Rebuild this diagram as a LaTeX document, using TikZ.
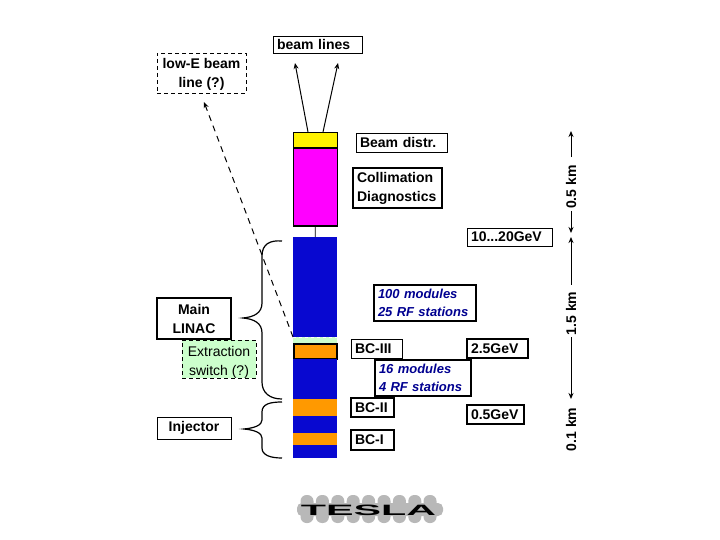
\documentclass[tikz,border=0pt]{standalone}
\usepackage{fontspec}
\setmainfont{Liberation Sans}
\usepackage{xcolor}
\usetikzlibrary{arrows.meta}
\definecolor{barblue}{HTML}{0808D0}
\definecolor{barorange}{HTML}{FF9900}
\definecolor{barpink}{HTML}{FF00FF}
\definecolor{switchgreen}{HTML}{CCFFCC}
\definecolor{notenavy}{HTML}{000090}
\definecolor{logogrey}{HTML}{B8B8B8}

\begin{document}
\begin{tikzpicture}[x=1pt, y=-1pt,
        bar/.style={minimum width=44pt, inner sep=0pt, outer sep=0pt},
        box/.style={draw, line width=0.8pt, inner sep=0pt, align=center,
                    font=\fontsize{14}{19}\selectfont\bfseries},
        heavy/.style={box, line width=1.3pt},
        tag/.style={align=left, inner xsep=4pt, text width=#1pt-8pt, minimum width=#1pt},
        dashbox/.style={box, dash pattern=on 4pt off 3pt},
        note/.style={heavy, text=notenavy,
                     font=\fontsize{13}{18}\selectfont\bfseries\itshape},
        len/.style={rotate=90, inner sep=2pt,
                    font=\fontsize{14}{16}\selectfont\bfseries},
        arr/.style={-{Stealth[length=6pt, width=5pt]}, line width=1pt},
        curl/.style={line width=1.2pt}
    ]
        \useasboundingbox (0,0) rectangle (720,540);

        \node[bar, draw, line width=0.5pt, fill=yellow, minimum height=16pt] (distr) at (315, 140) {};
        \node[bar, draw, line width=1.2pt, fill=barpink, minimum height=78pt] (coll) at (315.5, 187) {};
        \node[bar, fill=barblue, minimum height=100pt] (linacC) at (315, 287) {};
        \node[bar, fill=switchgreen, minimum height=7pt] (strip) at (315, 340.5) {};
        \node[bar, fill=barorange, draw, line width=1.1pt, minimum width=43pt, minimum height=15pt] (bc3) at (315.5, 351.5) {};
        \node[bar, fill=barblue, minimum height=40pt] (linacB) at (315, 379) {};
        \node[bar, fill=barorange, minimum height=17pt] (bc2) at (315, 407.5) {};
        \node[bar, fill=barblue, minimum height=17pt] (linacA) at (315, 424.5) {};
        \node[bar, fill=barorange, minimum height=12pt] (bc1) at (315, 439) {};
        \node[bar, fill=barblue, minimum height=13pt] (gun) at (315, 451.5) {};
        \draw[white, dashed, line width=0.8pt] (strip.north west) -- (strip.north east);
        \draw[line width=0.8pt] (coll) -- (linacC);

        \node[box, tag=89, minimum height=17pt] (lines) at (317.5, 44.5) {beam lines};
        \node[dashbox, minimum width=89pt, minimum height=40pt] (lowe) at (201.5, 73) {\rule{0pt}{13pt}low-E beam\\line (?)};
        \node[box, tag=91, minimum height=19pt] (bdistr) at (401.5, 142.5) {Beam distr.};
        \node[heavy, tag=89, minimum height=40pt] (colltxt) at (397.5, 188) {Collimation\\Diagnostics};
        \node[box, tag=85, minimum height=18pt] (gev20) at (509.5, 237) {10...20GeV};
        \node[note, tag=102, minimum height=36pt] (mod100) at (425, 303) {100 modules\\25 RF stations};
        \node[box, minimum width=74pt, minimum height=41pt, line width=1.1pt] (main) at (194, 318.5) {Main\\LINAC};
        \node[dashbox, fill=switchgreen, minimum width=74pt, minimum height=36pt, font=\fontsize{14}{19}\selectfont] (switch) at (219, 359) {\rule{0pt}{16pt}Extraction\\switch (?)};
        \node[box, tag=51, minimum height=19pt] (bciii) at (376.5, 348.5) {BC-III};
        \node[heavy, tag=61, minimum height=19pt] (gev25) at (497.5, 348.5) {2.5GeV};
        \node[note, tag=96, minimum height=36pt] (mod16) at (423, 378) {16 modules\\4 RF stations};
        \node[heavy, tag=43, minimum height=19pt] (bcii) at (372.5, 407.5) {BC-II};
        \node[heavy, tag=57, minimum height=19pt] (gev05) at (495.5, 414.5) {0.5GeV};
        \node[heavy, tag=43, minimum height=20pt] (bci) at (372.5, 440) {BC-I};
        \node[box, minimum width=74pt, minimum height=22pt] (inj) at (194, 428) {Injector};

        \coordinate (lineL) at (295, 63);
        \coordinate (lineR) at (338, 63);
        \coordinate (loweT) at (204, 102);
        \draw[arr] (distr.north) ++(-7,0) -- (lineL);
        \draw[arr] (distr.north) ++(8,0) -- (lineR);
        \draw[arr, dash pattern=on 6pt off 5pt] (linacC.south west) -- (loweT);

        \draw[curl] (282, 241) .. controls (270, 240) and (262, 244) .. (262, 256)
            -- (262, 303) .. controls (262, 313) and (254, 317) .. (243, 318)
            .. controls (254, 319) and (262, 323) .. (262, 333)
            -- (262, 382) .. controls (262, 393) and (270, 399) .. (282, 399);
        \draw[curl] (282, 402) .. controls (270, 402) and (262, 404) .. (262, 412)
            -- (262, 420) .. controls (262, 425) and (255, 428) .. (244, 429)
            .. controls (255, 430) and (262, 433) .. (262, 438)
            -- (262, 448) .. controls (262, 455) and (270, 458) .. (282, 458);

        \node[len] (km05) at (571, 187) {0.5 km};
        \node[len] (km15) at (571, 313.5) {1.5 km};
        \node[len] (km01) at (571, 429.5) {0.1 km};
        \coordinate (dimA) at (571, 131);
        \coordinate (dimB) at (571, 233);
        \coordinate (dimC) at (571, 237);
        \coordinate (dimD) at (571, 399);
        \draw[arr, shorten <=6pt] (km05.east) -- (dimA);
        \draw[arr] (km05.west) -- (dimB);
        \draw[arr, shorten <=5pt] (km15.east) -- (dimC);
        \draw[arr] (km15.west) -- (dimD);

        \fill[logogrey, rounded corners=5pt] (297, 503) rectangle (443, 516);
        \foreach \x in {307, 322.4, 337.8, 353.2, 368.6, 384, 399.4, 414.8, 430}
            \fill[logogrey, rounded corners=6pt] (\x-6.5, 495) rectangle (\x+6.5, 523);
        \node[xscale=2.75, inner sep=0pt, font=\fontsize{15}{15}\selectfont\bfseries] (logo) at (368.5, 510) {TESLA};
    \end{tikzpicture}
\end{document}
